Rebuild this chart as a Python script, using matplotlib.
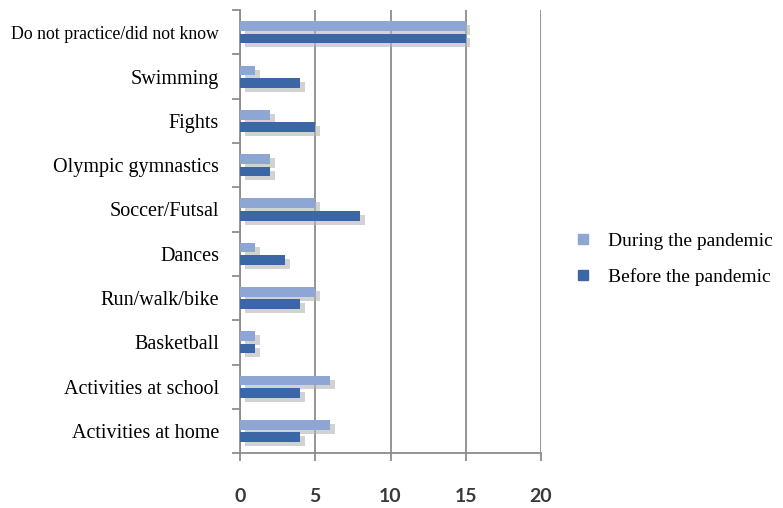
import numpy as np
import matplotlib.pyplot as plt
from matplotlib.lines import Line2D

# Data
categories = ["Do not practice/did not know", "Swimming", "Fights", "Olympic gymnastics",
              "Soccer/Futsal", "Dances", "Run/walk/bike", "Basketball",
              "Activities at school", "Activities at home"]
during = [15, 1, 2, 2, 5, 1, 5, 1, 6, 6]
before = [15, 4, 5, 2, 8, 3, 4, 1, 4, 4]
xticks = [0, 5, 10, 15, 20]

light = "#8da6d3"
dark = "#3b67a6"
grid_c = "#8c8c8c"

fig = plt.figure(figsize=(7.83, 5.08), dpi=100)
ax = fig.add_axes([0.3065, 0.108, 0.3845, 0.872])

y = np.arange(len(categories))
h = 0.22
off = 0.14
# shadows
sx, sy = 0.3, 0.09
ax.barh(y - off + sy, during, height=h, left=sx, color="#b5b5b5", alpha=0.6, zorder=2, linewidth=0)
ax.barh(y + off + sy, before, height=h, left=sx, color="#b5b5b5", alpha=0.6, zorder=2, linewidth=0)
# bars
ax.barh(y - off, during, height=h, color=light, zorder=3, linewidth=0)
ax.barh(y + off, before, height=h, color=dark, zorder=3, linewidth=0)

ax.set_xlim(0, 20)
ax.set_ylim(len(categories) - 0.5, -0.5)
ax.set_xticks(xticks)
ax.set_xticklabels([str(t) for t in xticks], family="Lato", fontsize=14, weight="bold", color="#3a3a3a")
ax.tick_params(axis="x", length=6, width=1.3, color=grid_c, pad=19)

ax.set_yticks(y)
ax.set_yticklabels(categories, family="Liberation Serif", fontsize=14.5)
ax.get_yticklabels()[0].set_fontsize(12.8)
ax.tick_params(axis="y", which="major", length=0, pad=15)
ax.set_yticks(np.arange(len(categories) + 1) - 0.5, minor=True)
ax.tick_params(axis="y", which="minor", length=6, width=1.3, color=grid_c)

ax.grid(axis="x", color=grid_c, linewidth=1.3, zorder=1)
ax.set_axisbelow(True)
for s in ["top", "right"]:
    ax.spines[s].set_visible(False)
for s in ["left", "bottom"]:
    ax.spines[s].set_color(grid_c)
    ax.spines[s].set_linewidth(1.3)
ax.spines["bottom"].set_bounds(0, 20)

handles = [Line2D([], [], marker="s", linestyle="none", markersize=7, color=light),
           Line2D([], [], marker="s", linestyle="none", markersize=7, color=dark)]
fig.legend(handles, ["During the pandemic", "Before the pandemic"],
           loc="center left", bbox_to_anchor=(0.712, 0.49), frameon=False,
           prop={"family": "Liberation Serif", "size": 14}, handlelength=0.8,
           handletextpad=0.9, labelspacing=0.95)

fig.savefig("out.png", dpi=100)
